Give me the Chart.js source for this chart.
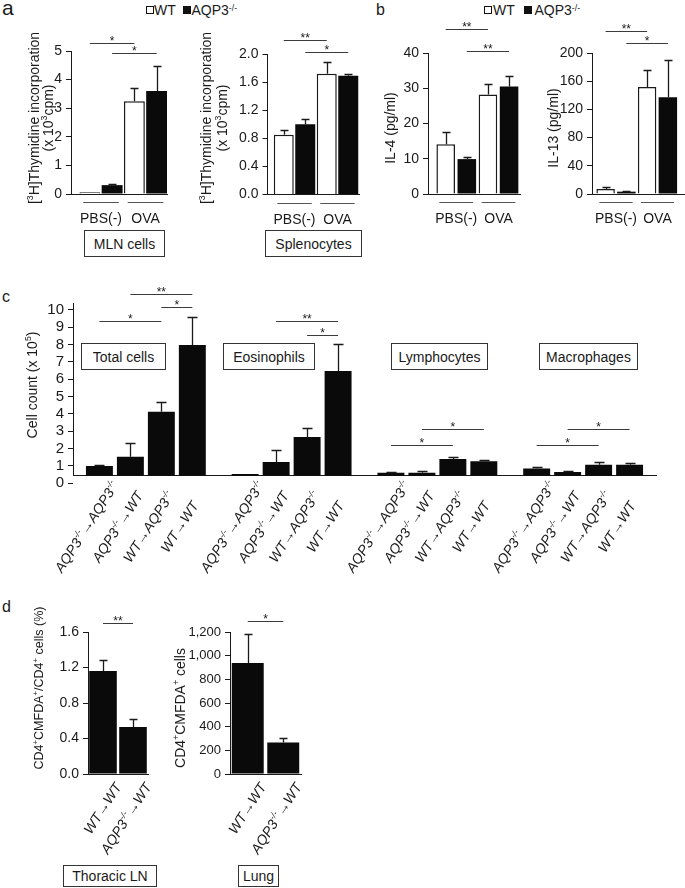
<!DOCTYPE html>
<html>
<head>
<meta charset="utf-8">
<title>AQP3 figure</title>
<script src="https://cdn.jsdelivr.net/npm/chart.js@4.4.1/dist/chart.umd.min.js"></script>
<style>
  body { margin: 0; background: #fff; }
  #page { position: relative; width: 685px; height: 888px; overflow: hidden;
          font-family: "Liberation Sans", Arial, sans-serif; color: #1a1a1a; }
  #page canvas { position: absolute; left: 0; top: 0; }
  .t { position: absolute; white-space: nowrap; line-height: 1; }
  .t sup { font-size: 0.62em; vertical-align: 0.5em; line-height: 0; }
  .sq { position: absolute; width: 8.5px; height: 8.5px; box-sizing: border-box; border: 1px solid #111; }
  .box { position: absolute; box-sizing: border-box; border: 1px solid #333; font-size: 14px;
         display: flex; align-items: center; justify-content: center; white-space: nowrap; }
</style>
</head>
<body>
<div id="page">
  <!-- panel letters -->
  <div class="t" style="left:2px;top:-3px;font-size:21px">a</div>
  <div class="t" style="left:376px;top:1.5px;font-size:16px">b</div>
  <div class="t" style="left:2px;top:288.5px;font-size:16px">c</div>
  <div class="t" style="left:2px;top:598.5px;font-size:16px">d</div>

  <!-- legends -->
  <div class="sq" style="left:145.5px;top:5.5px;background:#fff"></div>
  <div class="t" style="left:154px;top:2.6px;font-size:14px">WT</div>
  <div class="sq" style="left:182.5px;top:5.5px;background:#111"></div>
  <div class="t" style="left:191.5px;top:2.6px;font-size:14px">AQP3<sup>-/-</sup></div>

  <div class="sq" style="left:483.5px;top:5.5px;background:#fff"></div>
  <div class="t" style="left:493px;top:2.6px;font-size:14px">WT</div>
  <div class="sq" style="left:523.5px;top:5.5px;background:#111"></div>
  <div class="t" style="left:534.5px;top:2.6px;font-size:14px">AQP3<sup>-/-</sup></div>

  <!-- boxed captions -->
  <div class="box" style="left:84px;top:230px;width:81px;height:27px">MLN cells</div>
  <div class="box" style="left:265px;top:230px;width:97px;height:27px">Splenocytes</div>
  <div class="box" style="left:81px;top:343px;width:85px;height:27px">Total cells</div>
  <div class="box" style="left:223px;top:343px;width:92px;height:27px">Eosinophils</div>
  <div class="box" style="left:391px;top:343px;width:97px;height:27px">Lymphocytes</div>
  <div class="box" style="left:539px;top:343px;width:99px;height:27px">Macrophages</div>
  <div class="box" style="left:63px;top:865px;width:94px;height:22px">Thoracic LN</div>
  <div class="box" style="left:238px;top:865px;width:41px;height:22px">Lung</div>
</div>

<script>
// ---- data ----
const stimGroups = ['PBS(-)', 'OVA'];

// a: [3H]thymidine incorporation, x10^3 cpm (mean, sem)
const mlnWT = [0.06, 3.24];
const mlnWTSem = [0, 0.48];
const mlnKO = [0.31, 3.60];
const mlnKOSem = [0.05, 0.88];
const splWT = [0.85, 1.72];
const splWTSem = [0.07, 0.17];
const splKO = [1.00, 1.69];
const splKOSem = [0.08, 0.03];

// b: cytokines, pg/ml
const il4WT = [14.1, 28.2];
const il4WTSem = [3.4, 3.1];
const il4KO = [9.9, 30.5];
const il4KOSem = [0.5, 3.1];
const il13WT = [7.1, 151.9];
const il13WTSem = [2.3, 23.6];
const il13KO = [3.3, 137.3];
const il13KOSem = [0.9, 53.3];

// c: BALF cell counts, x10^5
const cellTypes = ['Total cells', 'Eosinophils', 'Lymphocytes', 'Macrophages'];
const transfers = ['AQP3^{-/-}\u2192AQP3^{-/-}', 'AQP3^{-/-}\u2192WT', 'WT\u2192AQP3^{-/-}', 'WT\u2192WT'];
const countKOtoKO = [1.00, 0.54, 0.61, 0.86];
const semKOtoKO = [0.06, 0, 0.04, 0.06];
const countKOtoWT = [1.54, 1.23, 0.61, 0.65];
const semKOtoWT = [0.77, 0.71, 0.10, 0.06];
const countWTtoKO = [4.13, 2.67, 1.40, 1.07];
const semWTtoKO = [0.58, 0.50, 0.14, 0.14];
const countWTtoWT = [7.98, 6.48, 1.27, 1.07];
const semWTtoWT = [1.63, 1.54, 0.09, 0.08];

// d: CMFDA-labelled CD4+ cells
const dGroups = ['WT\u2192WT', 'AQP3^{-/-}\u2192WT'];
const lnPct = [1.16, 0.53];
const lnPctSem = [0.13, 0.095];
const lungCells = [939, 267];
const lungCellsSem = [246, 39];

// tick values
const mlnTicks = [0, 1, 2, 3, 4, 5];
const splTicks = [0, 0.4, 0.8, 1.2, 1.6, 2.0];
const il4Ticks = [0, 10, 20, 30, 40];
const il13Ticks = [0, 40, 80, 120, 160, 200];
const countTicks = [0, 1, 2, 3, 4, 5, 6, 7, 8, 9, 10];
const lnTicks = [0, 0.4, 0.8, 1.2, 1.6];
const lungTicks = [0, 200, 400, 600, 800, 1000, 1200];

// significance brackets: [fromDataset, fromIndex, toDataset, toIndex, level, label]
const mlnSig = [[0, 0, 0, 1, 5.28, '*'], [1, 0, 1, 1, 4.93, '*']];
const splSig = [[0, 0, 0, 1, 2.2, '**'], [1, 0, 1, 1, 2.03, '*']];
const il4Sig = [[0, 0, 0, 1, 46.8, '**'], [1, 0, 1, 1, 40.6, '**']];
const il13Sig = [[0, 0, 0, 1, 231, '**'], [1, 0, 1, 1, 214, '*']];
const countSig = [
  [0, 0, 2, 0, 9.37, '*'], [1, 0, 3, 0, 10.9, '**'], [2, 0, 3, 0, 10.16, '*'],
  [1, 1, 3, 1, 9.37, '**'], [2, 1, 3, 1, 8.56, '*'],
  [0, 2, 2, 2, 2.19, '*'], [1, 2, 3, 2, 3.13, '*'],
  [0, 3, 2, 3, 2.19, '*'], [1, 3, 3, 3, 3.13, '*']
];
const lnSig = [[0, 0, 0, 1, 1.70, '**']];
const lungSig = [[0, 0, 0, 1, 1293, '*']];

// ---- drawing ----
const PAGE_W = 685, PAGE_H = 888;
const Y_W = 60;          // width reserved for y tick labels
const INK = '#1a1a1a';
const BLACK = '#0a0a0a';
const FAMILY = '"Liberation Sans", Arial, sans-serif';

Chart.defaults.font.family = FAMILY;
Chart.defaults.font.size = 14;
Chart.defaults.color = INK;
Chart.defaults.animation = false;
Chart.defaults.plugins.legend.display = false;
Chart.defaults.plugins.tooltip.enabled = false;

const page = document.getElementById('page');

function newCanvas() {
  const c = document.createElement('canvas');
  c.width = PAGE_W;
  c.height = PAGE_H;
  c.style.width = PAGE_W + 'px';
  c.style.height = PAGE_H + 'px';
  page.appendChild(c);
  return c.getContext('2d');
}

// plot area edges in page pixels -> layout padding (axes take Y_W / xh)
function area(l, t, r, b, xh) {
  return {left: l - Y_W, top: t, right: PAGE_W - r, bottom: PAGE_H - b - (xh || 0)};
}

// text with ^{...} superscripts, vertically centred on (x, y)
function drawRich(ctx, str, x, y, angle, align, size, italic) {
  const segs = str.split(/(\^\{[^}]*\})/).filter(s => s).map(s =>
    s.startsWith('^{') ? {t: s.slice(2, -1), sup: true} : {t: s, sup: false});
  const font = s => (italic ? 'italic ' : '') + s + 'px ' + FAMILY;
  let total = 0;
  segs.forEach(sg => {
    ctx.font = font(sg.sup ? size * 0.62 : size);
    sg.w = ctx.measureText(sg.t).width;
    total += sg.w;
  });
  ctx.save();
  ctx.translate(x, y);
  ctx.rotate(angle);
  ctx.fillStyle = INK;
  ctx.textAlign = 'left';
  ctx.textBaseline = 'alphabetic';
  let cx = align === 'center' ? -total / 2 : align === 'right' ? -total : 0;
  const base = size * 0.36;
  segs.forEach(sg => {
    ctx.font = font(sg.sup ? size * 0.62 : size);
    ctx.fillText(sg.t, cx, base - (sg.sup ? size * 0.42 : 0));
    cx += sg.w;
  });
  ctx.restore();
}

// error bars, significance brackets, titles and custom labels
function extras(cfg) {
  return {
    id: 'extras',
    afterDatasetsDraw(chart) {
      const ctx = chart.ctx, ys = chart.scales.y;
      ctx.save();
      ctx.strokeStyle = INK;
      ctx.lineWidth = 1.3;
      chart.data.datasets.forEach((ds, di) => {
        if (!ds.sem) return;
        chart.getDatasetMeta(di).data.forEach((bar, i) => {
          if (!ds.sem[i]) return;
          const raw = ds.data[i];
          const v = typeof raw === 'object' ? raw.y : raw;
          const top = Math.round(ys.getPixelForValue(v + ds.sem[i])) + 0.5;
          const x = Math.round(bar.x) + 0.5;
          ctx.beginPath();
          ctx.moveTo(x, bar.y);
          ctx.lineTo(x, top);
          ctx.moveTo(x - cfg.cap / 2, top);
          ctx.lineTo(x + cfg.cap / 2, top);
          ctx.stroke();
        });
      });
      ctx.restore();
    },
    afterDraw(chart) {
      const ctx = chart.ctx, ys = chart.scales.y, xs = chart.scales.x;
      const ca = chart.chartArea;
      ctx.save();
      // significance
      ctx.strokeStyle = '#3a3a3a';
      ctx.lineWidth = 1;
      (cfg.sig || []).forEach(([d0, i0, d1, i1, level, label]) => {
        const x0 = chart.getDatasetMeta(d0).data[i0].x;
        const x1 = chart.getDatasetMeta(d1).data[i1].x;
        const y = Math.round(ys.getPixelForValue(level)) + 0.5;
        ctx.beginPath();
        ctx.moveTo(x0, y);
        ctx.lineTo(x1, y);
        ctx.stroke();
        ctx.fillStyle = INK;
        ctx.font = '12px ' + FAMILY;
        ctx.textAlign = 'center';
        ctx.textBaseline = 'alphabetic';
        ctx.fillText(label, (x0 + x1) / 2, y + 1);
      });
      // group underlines
      if (cfg.underline) {
        ctx.strokeStyle = '#555';
        const y = Math.round(ca.bottom + 8) + 0.5;
        for (let g = 0; g < cfg.underline; g++) {
          ctx.beginPath();
          ctx.moveTo(xs.getPixelForValue(g - 0.4), y);
          ctx.lineTo(xs.getPixelForValue(g + 0.4), y);
          ctx.stroke();
        }
      }
      ctx.restore();
      // y titles
      (cfg.titles || []).forEach(t => {
        drawRich(ctx, t.text, ca.left + t.dx, t.y, -Math.PI / 2, 'center', t.size || 14, false);
      });
      // rotated category labels
      if (cfg.xLabels) {
        const L = cfg.xLabels;
        chart.data.datasets.forEach((ds, di) => {
          chart.getDatasetMeta(di).data.forEach((bar, i) => {
            drawRich(ctx, L.text(di, i), bar.x + L.dx, ca.bottom + L.dy,
              -57 * Math.PI / 180, L.align, 14, true);
          });
        });
      }
    }
  };
}

function yAxis(ticks, min, max, fmt, size) {
  return {
    type: 'linear', min: min, max: max, beginAtZero: false,
    afterBuildTicks: s => { s.ticks = ticks.map(v => ({value: v})); },
    afterFit: s => { s.width = Y_W; s.paddingTop = 0; s.paddingBottom = 0; },
    ticks: {autoSkip: false, padding: 4, callback: fmt, font: {size: size || 14}, color: INK},
    grid: {display: true, drawOnChartArea: false, drawTicks: true, tickLength: 5, color: INK},
    border: {display: true, color: INK, width: 1}
  };
}

const GROUP_XH = 40;
function groupAxis(labels, min, max) {
  return {
    type: 'linear', min: min, max: max, offset: false,
    afterBuildTicks: s => { s.ticks = labels.map((_, i) => ({value: i})); },
    afterFit: s => { s.height = GROUP_XH; s.paddingLeft = 0; s.paddingRight = 0; },
    ticks: {autoSkip: false, maxRotation: 0, minRotation: 0, padding: 9,
            font: {size: 14}, color: INK, callback: v => labels[v]},
    grid: {display: false},
    border: {display: true, color: INK, width: 1}
  };
}

function categoryAxis() {
  return {
    type: 'category', offset: true,
    afterFit: s => { s.height = 0; s.paddingLeft = 0; s.paddingRight = 0; },
    ticks: {display: false},
    grid: {display: false},
    border: {display: true, color: INK, width: 1}
  };
}

const int = v => String(v);
const oneDp = v => v.toFixed(1);
const comma = v => v.toLocaleString('en-US');

// WT vs AQP3-/- pair charts (panels a and b)
function pairChart(o) {
  const pts = vals => vals.map((v, i) => ({x: i, y: v}));
  new Chart(newCanvas(), {
    type: 'bar',
    data: {
      datasets: [
        {label: 'WT', data: pts(o.wt), sem: o.wtSem, backgroundColor: '#fff',
         borderColor: INK, borderWidth: 1.5, categoryPercentage: 1, barPercentage: o.barPct},
        {label: 'AQP3-/-', data: pts(o.ko), sem: o.koSem, backgroundColor: BLACK,
         borderColor: BLACK, borderWidth: 0, categoryPercentage: 1, barPercentage: o.barPct}
      ]
    },
    options: {
      responsive: false,
      devicePixelRatio: 1,
      layout: {padding: o.area},
      scales: {
        x: groupAxis(stimGroups, o.xMin, o.xMax),
        y: yAxis(o.ticks, 0, o.max, o.fmt)
      }
    },
    plugins: [extras({cap: 8, sig: o.sig, titles: o.titles, underline: stimGroups.length})]
  });
}

pairChart({area: area(71, 51, 167, 194, GROUP_XH), xMin: -0.674, xMax: 1.483, barPct: 0.94,
  wt: mlnWT, wtSem: mlnWTSem, ko: mlnKO, koSem: mlnKOSem,
  ticks: mlnTicks, max: 5, fmt: int, sig: mlnSig,
  titles: [{text: '[^{3}H]Thymidine incorporation', dx: -37, y: 118},
           {text: '(x 10^{3}cpm)', dx: -23, y: 118}]});

pairChart({area: area(267.5, 54, 359, 194.5, GROUP_XH), xMin: -0.628, xMax: 1.5, barPct: 0.93,
  wt: splWT, wtSem: splWTSem, ko: splKO, koSem: splKOSem,
  ticks: splTicks, max: 2.0, fmt: oneDp, sig: splSig,
  titles: [{text: '[^{3}H]Thymidine incorporation', dx: -61.5, y: 118},
           {text: '(x 10^{3}cpm)', dx: -45.5, y: 118}]});

pairChart({area: area(428, 53, 520, 194, GROUP_XH), xMin: -0.669, xMax: 1.509, barPct: 0.88,
  wt: il4WT, wtSem: il4WTSem, ko: il4KO, koSem: il4KOSem,
  ticks: il4Ticks, max: 40, fmt: int, sig: il4Sig,
  titles: [{text: 'IL-4 (pg/ml)', dx: -38, y: 128}]});

pairChart({area: area(592, 53, 685, 194, GROUP_XH), xMin: -0.578, xMax: 1.663, barPct: 0.89,
  wt: il13WT, wtSem: il13WTSem, ko: il13KO, koSem: il13KOSem,
  ticks: il13Ticks, max: 200, fmt: int, sig: il13Sig,
  titles: [{text: 'IL-13 (pg/ml)', dx: -39, y: 128}]});

// panel c
const countSeries = [countKOtoKO, countKOtoWT, countWTtoKO, countWTtoWT];
const semSeries = [semKOtoKO, semKOtoWT, semWTtoKO, semWTtoWT];
new Chart(newCanvas(), {
  type: 'bar',
  data: {
    labels: cellTypes,
    datasets: transfers.map((t, k) => ({
      label: t, data: countSeries[k], sem: semSeries[k],
      backgroundColor: BLACK, borderWidth: 0,
      categoryPercentage: 0.85, barPercentage: 0.87
    }))
  },
  options: {
    responsive: false,
    devicePixelRatio: 1,
    layout: {padding: area(73, 303, 656, 475.7)},
    scales: {x: categoryAxis(), y: yAxis(countTicks, 0.44, 10.4, int, 15)}
  },
  plugins: [extras({cap: 10, sig: countSig,
    titles: [{text: 'Cell count (x 10^{5})', dx: -41, y: 385}],
    xLabels: {text: (di, i) => transfers[di], dx: -13, dy: 51, align: 'center'}})]
});

// panel d
function transferChart(o) {
  new Chart(newCanvas(), {
    type: 'bar',
    data: {
      labels: dGroups,
      datasets: [{label: o.label, data: o.values, sem: o.sem, backgroundColor: BLACK,
                  borderWidth: 0, categoryPercentage: 1, barPercentage: o.barPct}]
    },
    options: {
      responsive: false,
      devicePixelRatio: 1,
      layout: {padding: o.area},
      scales: {x: categoryAxis(), y: yAxis(o.ticks, 0, o.max, o.fmt, o.tickSize)}
    },
    plugins: [extras({cap: 8, sig: o.sig, titles: o.titles,
      xLabels: {text: (di, i) => dGroups[i], dx: 15, dy: 10, align: 'right'}})]
  });
}

transferChart({area: area(88, 632, 148, 774), values: lnPct, sem: lnPctSem, barPct: 0.92,
  label: 'Thoracic LN', ticks: lnTicks, max: 1.6, fmt: oneDp, sig: lnSig, tickSize: 14,
  titles: [{text: 'CD4^{+}CMFDA^{+}/CD4^{+} cells (%)', dx: -49.5, y: 688, size: 12.5}]});

transferChart({area: area(230, 632, 301, 774), values: lungCells, sem: lungCellsSem, barPct: 0.9,
  label: 'Lung', ticks: lungTicks, max: 1200, fmt: comma, sig: lungSig, tickSize: 13,
  titles: [{text: 'CD4^{+}CMFDA^{+} cells', dx: -50, y: 708}]});
</script>
</body>
</html>
